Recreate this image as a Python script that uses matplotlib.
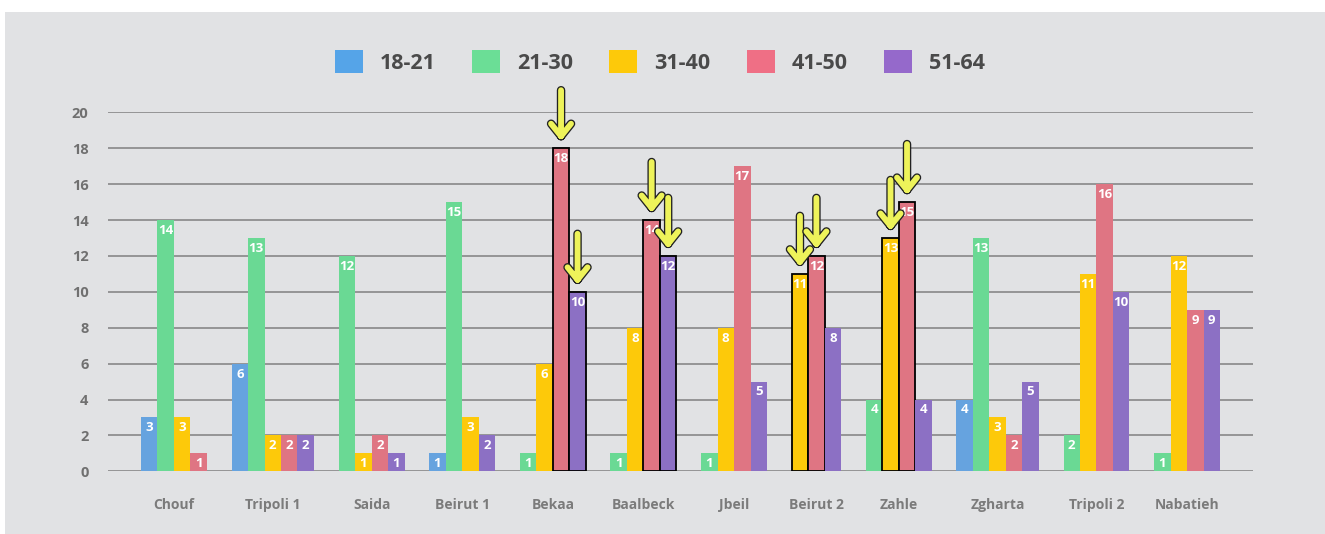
import numpy as np
import matplotlib
matplotlib.use('Agg')
import matplotlib.pyplot as plt
from matplotlib.patches import Patch, Rectangle
from matplotlib.lines import Line2D
from matplotlib.transforms import ScaledTranslation
import matplotlib.patheffects as pe

plt.rcParams['font.family'] = ['Open Sans', 'DejaVu Sans']

groups = ['Chouf', 'Tripoli 1', 'Saida', 'Beirut 1', 'Bekaa', 'Baalbeck',
          'Jbeil', 'Beirut 2', 'Zahle', 'Zgharta', 'Tripoli 2', 'Nabatieh']
age_bands = ['18-21', '21-30', '31-40', '41-50', '51-64']

age_18_21 = [3, 6, 0, 1, 0, 0, 0, 0, 0, 4, 0, 0]
age_21_30 = [14, 13, 12, 15, 1, 1, 1, 0, 4, 13, 2, 1]
age_31_40 = [3, 2, 1, 3, 6, 8, 8, 11, 13, 3, 11, 12]
age_41_50 = [1, 2, 2, 0, 18, 14, 17, 12, 15, 2, 16, 9]
age_51_64 = [0, 2, 1, 2, 10, 12, 5, 8, 4, 5, 10, 9]

# bars pointed out with an arrow
highlight = [('Bekaa', '41-50'), ('Bekaa', '51-64'),
             ('Baalbeck', '41-50'), ('Baalbeck', '51-64'),
             ('Beirut 2', '31-40'), ('Beirut 2', '41-50'),
             ('Zahle', '31-40'), ('Zahle', '41-50')]

series = [age_18_21, age_21_30, age_31_40, age_41_50, age_51_64]
bar_colors = ['#66a3df', '#6ad994', '#fdc90a', '#df7583', '#8c70c4']
key_colors = ['#55a4e8', '#6bde96', '#fdc90a', '#ef6f85', '#9569cb']

bg = '#e1e2e4'
grid_col = '#808080'
arrow_yellow = '#eef35a'

fig = plt.figure(figsize=(13.25, 5.34), dpi=100)
fig.patch.set_facecolor('white')
fig.patches.append(Rectangle((5 / 1325, 0), 1, (534 - 12) / 534,
                             transform=fig.transFigure, facecolor=bg,
                             edgecolor='none', zorder=-10))

ax = fig.add_axes([108 / 1325, (534 - 471.3) / 534,
                   (1253 - 108) / 1325, (471.3 - 112.3) / 534])
ax.set_facecolor('none')

# zero values get no bar, so each group only takes the room it needs
gap = 1.5
margin = 2.0
cursor = margin
centers = []
for gi, g in enumerate(groups):
    start = cursor
    for si, vals in enumerate(series):
        v = vals[gi]
        if v == 0:
            continue
        x = cursor + 0.5
        hl = (g, age_bands[si]) in highlight
        ax.bar(x, v, width=1.0, color=bar_colors[si],
               edgecolor='black' if hl else 'none',
               linewidth=1.3 if hl else 0, zorder=3)
        ax.annotate(str(v), (x, v), xytext=(0, -7.5), textcoords='offset points',
                    ha='center', va='center', color='white', fontsize=9.5,
                    fontweight='bold', zorder=4)
        if hl:
            # arrow drawn in inches relative to the bar top
            tr = fig.dpi_scale_trans + ScaledTranslation(x, v, ax.transData)
            xs = [0, 0, np.nan, -0.10, 0, 0.10]
            ys = [0.58, 0.12, np.nan, 0.245, 0.12, 0.245]
            arr = Line2D(xs, ys, transform=tr, color=arrow_yellow, linewidth=4.2,
                         solid_capstyle='round', solid_joinstyle='round',
                         zorder=6, clip_on=False)
            arr.set_path_effects([pe.Stroke(linewidth=6.1, foreground='#222222'),
                                  pe.Normal()])
            ax.add_line(arr)
        cursor += 1.0
    centers.append((start + cursor) / 2)
    cursor += gap
cursor = cursor - gap + margin

ax.set_xlim(0, cursor)
ax.set_ylim(0, 20)
ax.set_yticks(np.arange(0, 21, 2))
ax.yaxis.grid(True, color=grid_col, linewidth=1.1, zorder=0)
ax.set_axisbelow(True)
for s in ax.spines.values():
    s.set_visible(False)
ax.set_xticks(centers)
ax.set_xticklabels(groups)
ax.tick_params(axis='x', length=0, pad=19, labelsize=10, labelcolor='#7b7b7b')
ax.tick_params(axis='y', length=0, pad=14, labelsize=10.5, labelcolor='#707070')
for lab in ax.get_xticklabels() + ax.get_yticklabels():
    lab.set_fontweight('bold')

handles = [Patch(facecolor=c, edgecolor='none', label=l)
           for c, l in zip(key_colors, age_bands)]
leg = fig.legend(handles=handles, loc='center', ncol=5,
                 bbox_to_anchor=(660 / 1325, 1 - 62 / 534), frameon=False,
                 prop={'size': 15.5, 'weight': 'bold'},
                 handlelength=1.3, handleheight=1.3, handletextpad=0.78,
                 columnspacing=1.7)
for t in leg.get_texts():
    t.set_color('#4a4a4a')

fig.savefig('out.png', dpi=100, facecolor=fig.get_facecolor())
